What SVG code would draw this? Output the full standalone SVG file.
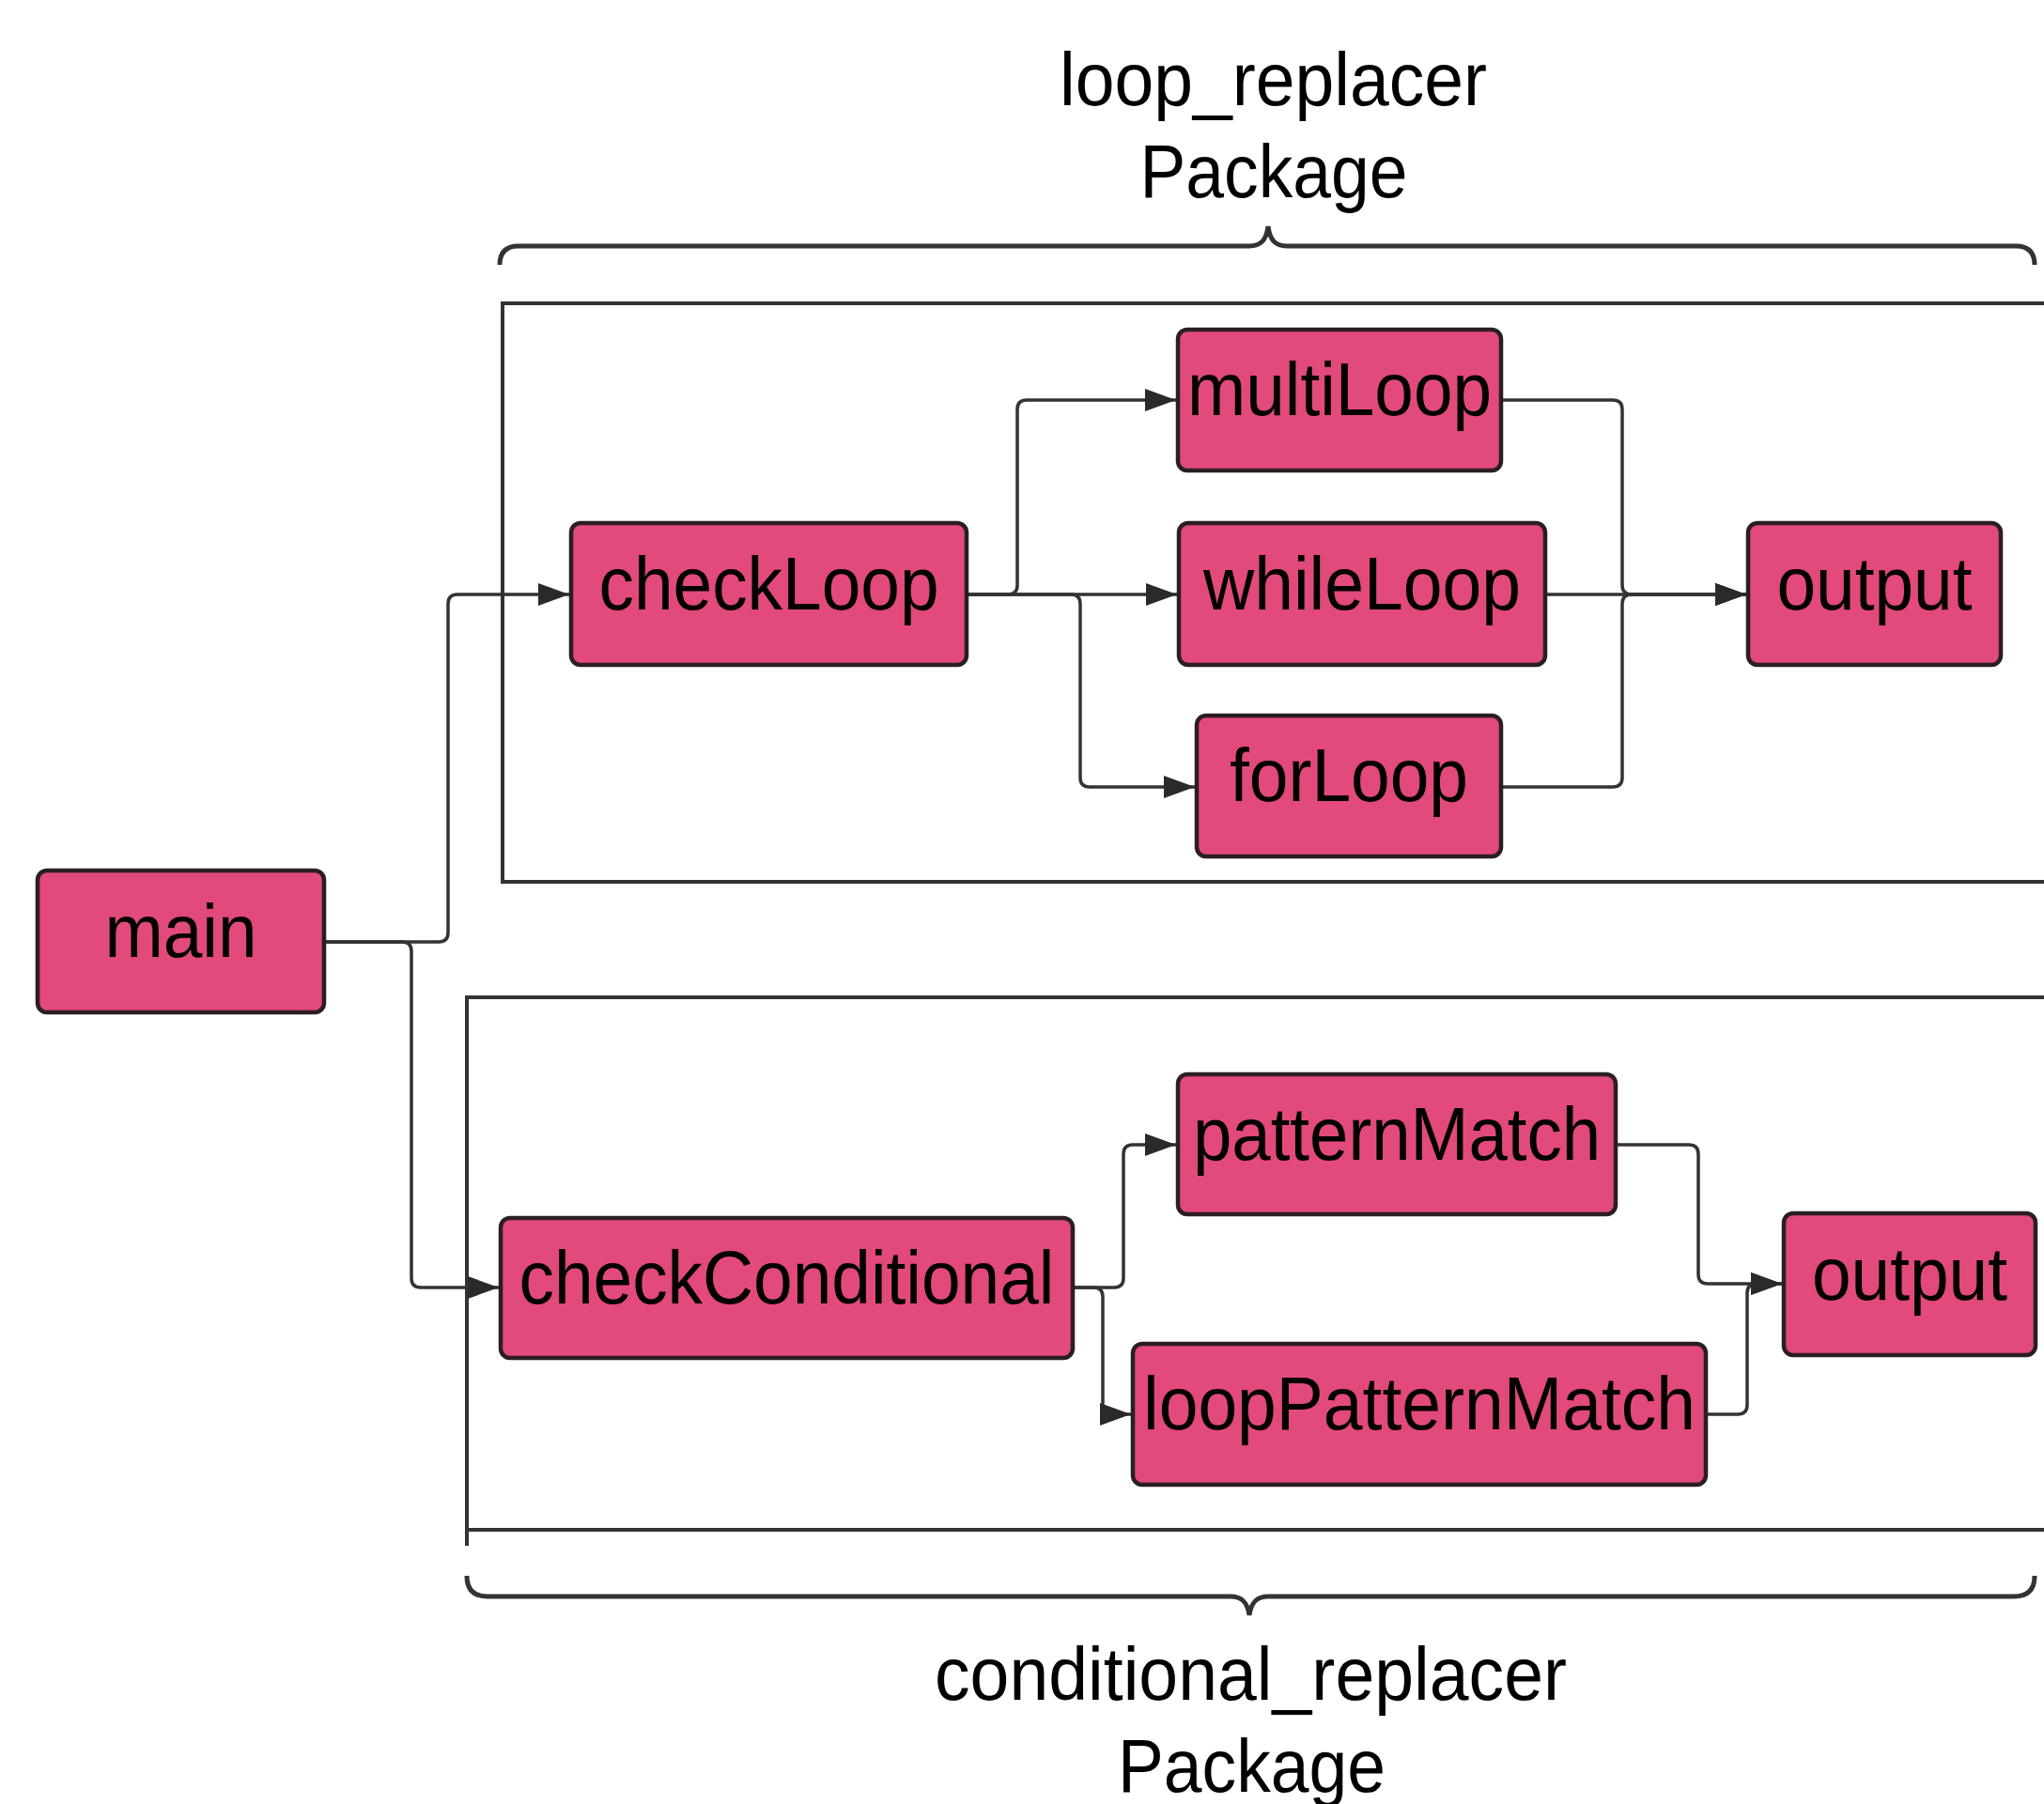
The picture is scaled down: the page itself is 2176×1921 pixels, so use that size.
<svg xmlns="http://www.w3.org/2000/svg" width="2176" height="1921" viewBox="0 0 2176 1921">
<style>
.node rect{fill:#e14a7a;stroke:#2b1e23;stroke-width:4.5}
.node text,.label{font-family:"Liberation Sans",Arial,sans-serif;font-size:80px;fill:#000;text-anchor:middle}
.conn path{fill:none;stroke:#333;stroke-width:3.5}
.pkg{fill:none;stroke:#333;stroke-width:4}
.brace{fill:none;stroke:#333;stroke-width:5}
</style>
<defs>
<marker id="arr" markerUnits="userSpaceOnUse" markerWidth="34" markerHeight="26" refX="33" refY="12" orient="auto">
<path d="M0,0 L33,12 L0,24 z" fill="#2a2a2a"/>
</marker>
</defs>
<rect width="2176" height="1921" fill="#fff"/>
<g id="packages">
<path class="pkg" d="M2180,323 H535 V939 H2180"/>
<path class="pkg" d="M2180,1062 H497 V1646 M497,1629 H2180"/>
<path class="brace" d="M532,282 Q532,262 552,262 H1330 C1342,262 1348,256 1350,241 C1352,256 1358,262 1370,262 H2146 Q2166,262 2166,282"/>
<path class="brace" d="M497,1678 Q497,1700 519,1700 H1310 C1322,1700 1328,1706 1330,1720 C1332,1706 1338,1700 1350,1700 H2144 Q2166,1700 2166,1678"/>
<text class="label" x="1355.5" y="112" textLength="455" lengthAdjust="spacingAndGlyphs">loop_replacer</text>
<text class="label" x="1356" y="210" textLength="285" lengthAdjust="spacingAndGlyphs">Package</text>
<text class="label" x="1331.5" y="1810" textLength="673" lengthAdjust="spacingAndGlyphs">conditional_replacer</text>
<text class="label" x="1332.5" y="1908" textLength="285" lengthAdjust="spacingAndGlyphs">Package</text>
</g>
<g id="connectors" class="conn">
<path d="M345,1003 H467 Q477,1003 477,993 V643 Q477,633 487,633 H606" marker-end="url(#arr)"/>
<path d="M345,1003 H428 Q438,1003 438,1013 V1361 Q438,1371 448,1371 H531" marker-end="url(#arr)"/>
<path d="M1029,633 H1073 Q1083,633 1083,623 V436 Q1083,426 1093,426 H1252" marker-end="url(#arr)"/>
<path d="M1029,633 H1253" marker-end="url(#arr)"/>
<path d="M1029,633 H1140 Q1150,633 1150,643 V828 Q1150,838 1160,838 H1272" marker-end="url(#arr)"/>
<path d="M1598,426 H1717 Q1727,426 1727,436 V623 Q1727,633 1737,633 H1859" marker-end="url(#arr)"/>
<path d="M1645,633 H1859" marker-end="url(#arr)"/>
<path d="M1598,838 H1717 Q1727,838 1727,828 V643 Q1727,633 1737,633 H1859" marker-end="url(#arr)"/>
<path d="M1142,1371 H1186 Q1196,1371 1196,1361 V1229 Q1196,1219 1206,1219 H1252" marker-end="url(#arr)"/>
<path d="M1142,1371 H1164 Q1174,1371 1174,1381 V1496 Q1174,1506 1184,1506 H1204" marker-end="url(#arr)"/>
<path d="M1720,1219 H1798 Q1808,1219 1808,1229 V1357 Q1808,1367 1818,1367 H1897" marker-end="url(#arr)"/>
<path d="M1816,1506 H1850 Q1860,1506 1860,1496 V1377 Q1860,1367 1870,1367 H1897" marker-end="url(#arr)"/>
</g>
<g id="main" class="node"><rect x="40" y="927" width="305" height="151" rx="10"/><text x="192.5" y="1019" textLength="162" lengthAdjust="spacingAndGlyphs">main</text></g>
<g id="checkLoop" class="node"><rect x="608" y="557" width="421" height="151" rx="10"/><text x="818.5" y="649" textLength="362" lengthAdjust="spacingAndGlyphs">checkLoop</text></g>
<g id="multiLoop" class="node"><rect x="1254" y="351" width="344" height="150" rx="10"/><text x="1426" y="442" textLength="324" lengthAdjust="spacingAndGlyphs">multiLoop</text></g>
<g id="whileLoop" class="node"><rect x="1255" y="557" width="390" height="151" rx="10"/><text x="1450" y="649" textLength="338" lengthAdjust="spacingAndGlyphs">whileLoop</text></g>
<g id="forLoop" class="node"><rect x="1274" y="762" width="324" height="150" rx="10"/><text x="1436" y="853" textLength="254" lengthAdjust="spacingAndGlyphs">forLoop</text></g>
<g id="output1" class="node"><rect x="1861" y="557" width="269" height="151" rx="10"/><text x="1995.5" y="649" textLength="208" lengthAdjust="spacingAndGlyphs">output</text></g>
<g id="checkConditional" class="node"><rect x="533" y="1297" width="609" height="149" rx="10"/><text x="837.5" y="1388" textLength="570" lengthAdjust="spacingAndGlyphs">checkConditional</text></g>
<g id="patternMatch" class="node"><rect x="1254" y="1144" width="466" height="149" rx="10"/><text x="1487" y="1235" textLength="434" lengthAdjust="spacingAndGlyphs">patternMatch</text></g>
<g id="loopPatternMatch" class="node"><rect x="1206" y="1431" width="610" height="150" rx="10"/><text x="1511" y="1522" textLength="588" lengthAdjust="spacingAndGlyphs">loopPatternMatch</text></g>
<g id="output2" class="node"><rect x="1899" y="1292" width="268" height="151" rx="10"/><text x="2033" y="1383.5" textLength="208" lengthAdjust="spacingAndGlyphs">output</text></g>
</svg>
